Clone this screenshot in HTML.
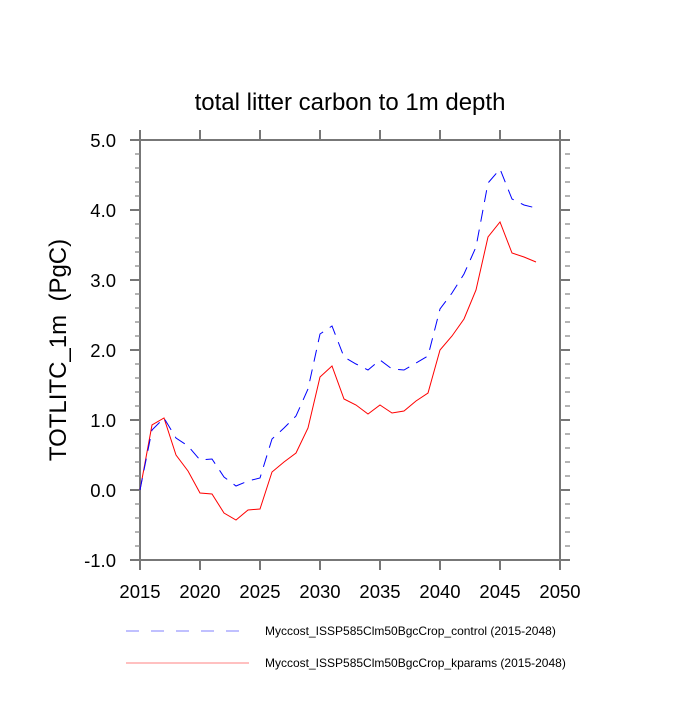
<!DOCTYPE html>
<html><head><style>body{margin:0;background:#fff}</style></head><body>
<svg width="700" height="700" xmlns="http://www.w3.org/2000/svg" font-family="Liberation Sans, sans-serif">
<rect width="700" height="700" fill="#fff"/>
<text x="350" y="110" font-size="24" text-anchor="middle">total litter carbon to 1m depth</text>
<text transform="translate(66,350) rotate(-90)" font-size="24" text-anchor="middle">TOTLITC_1m &#160;(PgC)</text>
<g stroke="#777" stroke-width="2" fill="none">
<rect x="140" y="140" width="420" height="420"/>
<path d="M140,130V140M200,130V140M260,130V140M320,130V140M380,130V140M440,130V140M500,130V140M560,130V140
M140,560V570M200,560V570M260,560V570M320,560V570M380,560V570M440,560V570M500,560V570M560,560V570
M130,140H140M130,210H140M130,280H140M130,350H140M130,420H140M130,490H140M130,560H140
M560,140H570M560,210H570M560,280H570M560,350H570M560,420H570M560,490H570M560,560H570"/>
</g>
<g stroke="#888" stroke-width="1.2">
<path d="M135,154H140M135,168H140M135,182H140M135,196H140M135,224H140M135,238H140M135,252H140M135,266H140M135,294H140M135,308H140M135,322H140M135,336H140M135,364H140M135,378H140M135,392H140M135,406H140M135,434H140M135,448H140M135,462H140M135,476H140M135,504H140M135,518H140M135,532H140M135,546H140"/>
<path transform="translate(430,0)" d="M135,154H140M135,168H140M135,182H140M135,196H140M135,224H140M135,238H140M135,252H140M135,266H140M135,294H140M135,308H140M135,322H140M135,336H140M135,364H140M135,378H140M135,392H140M135,406H140M135,434H140M135,448H140M135,462H140M135,476H140M135,504H140M135,518H140M135,532H140M135,546H140"/>
</g>
<g font-size="18.5" text-anchor="end">
<text x="116" y="147">5.0</text><text x="116" y="217">4.0</text><text x="116" y="287">3.0</text><text x="116" y="357">2.0</text><text x="116" y="427">1.0</text><text x="116" y="497">0.0</text><text x="116" y="567">-1.0</text>
</g>
<g font-size="18.5" text-anchor="middle">
<text x="140" y="598">2015</text><text x="200" y="598">2020</text><text x="260" y="598">2025</text><text x="320" y="598">2030</text><text x="380" y="598">2035</text><text x="440" y="598">2040</text><text x="500" y="598">2045</text><text x="560" y="598">2050</text>
</g>
<polyline fill="none" stroke="#ff0000" stroke-width="1" points="140,490 152,425 164,418 176,455 188,471 200,493 212,494 224,513 236,520 248,510 260,509 272,472 284,462 296,453 308,428 320,377 332,366 344,399 356,405 368,414 380,405 392,413 404,411 416,401 428,393 440,350 452,336 464,319 476,290 488,237 500,222 512,253 524,257 536,262"/>
<polyline fill="none" stroke="#0000ff" stroke-width="1" stroke-dasharray="12,8" points="140,490 152,430 164,418 176,438 188,446 200,460 212,459 224,477 236,486 248,481 260,478 272,439 284,428 296,416 308,389 320,334 332,326 344,357 356,364 368,370 380,360 392,369 404,370 416,363 428,356 440,309 452,293 464,274 476,247 488,183 500,169 512,199 524,205 536,208"/>
<line x1="126" y1="631" x2="242" y2="631" stroke="#8080ff" stroke-width="1" stroke-dasharray="13,12"/>
<line x1="126" y1="663" x2="249" y2="663" stroke="#ff8080" stroke-width="1"/>
<g font-size="12"><text x="265" y="635">Myccost_ISSP585Clm50BgcCrop_control (2015-2048)</text><text x="265" y="667">Myccost_ISSP585Clm50BgcCrop_kparams (2015-2048)</text></g>
</svg>
</body></html>
